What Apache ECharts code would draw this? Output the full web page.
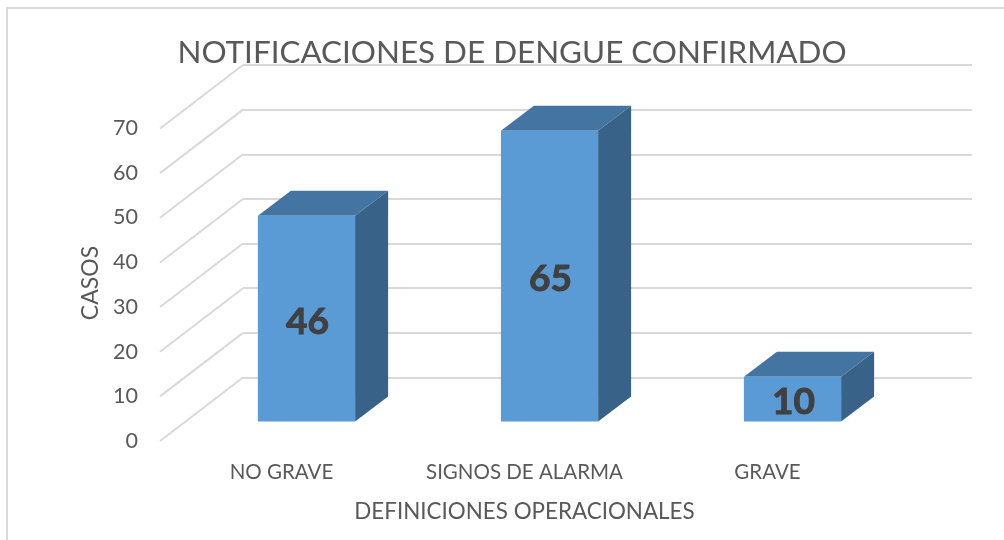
<!DOCTYPE html>
<html>
<head>
<meta charset="utf-8">
<style>
html,body{margin:0;padding:0;background:#fff}
#main{width:1004px;height:540px}
</style>
<script src="https://cdn.jsdelivr.net/npm/echarts@6/dist/echarts.min.js"></script>
</head>
<body>
<div id="main"></div>
<script>
var categories = ['NO GRAVE', 'SIGNOS DE ALARMA', 'GRAVE']
var casos = [46, 65, 10]
var yTicks = [0, 10, 20, 30, 40, 50, 60, 70]

var textColor = '#595959'
var gridColor = '#d9d9d9'
var font = 'Lato'

// profundidad del "3D"
var barDx = 33, barDy = 25
var wallDx = 83, wallDy = 63.5

var chart = echarts.init(document.getElementById('main'))

function renderBar(params, api) {
	var x = api.value(0)
	var v = api.value(1)
	var top = api.coord([x, v])
	var base = api.coord([x, 0])
	var w = api.size([1, 0])[0] * 0.4
	var l = top[0] - w / 2, r = top[0] + w / 2
	return {
		type: 'group',
		children: [
			{
				type: 'polygon',
				shape: { points: [[l, top[1]], [l + barDx, top[1] - barDy], [r + barDx, top[1] - barDy], [r, top[1]]] },
				style: { fill: '#4475a2' }
			},
			{
				type: 'polygon',
				shape: { points: [[r, top[1]], [r + barDx, top[1] - barDy], [r + barDx, base[1] - barDy], [r, base[1]]] },
				style: { fill: '#386287' }
			},
			{
				type: 'rect',
				shape: { x: l, y: top[1], width: w, height: base[1] - top[1] },
				style: { fill: '#5b9bd5' }
			},
			{
				type: 'text',
				x: top[0] + 1,
				y: (top[1] + base[1]) / 2 + 3,
				style: {
					text: String(v),
					fill: '#404040',
					stroke: '#404040',
					lineWidth: 1,
					font: 'bold 37px ' + font,
					align: 'center',
					verticalAlign: 'middle'
				}
			}
		]
	}
}

// lineas diagonales de la pared lateral
function renderWall(params, api) {
	var p = api.coord([0, api.value(0)])
	var x0 = params.coordSys.x
	return {
		type: 'line',
		shape: { x1: x0, y1: p[1], x2: x0 - wallDx, y2: p[1] + wallDy },
		style: { stroke: gridColor, lineWidth: 2 }
	}
}

var option = {
	animation: false,
	backgroundColor: '#fff',
	title: {
		text: 'NOTIFICACIONES DE DENGUE CONFIRMADO',
		left: 507,
		top: 32,
		textAlign: 'center',
		textStyle: { color: textColor, fontFamily: font, fontWeight: 'normal', fontSize: 31.4 }
	},
	graphic: [{
		type: 'rect',
		silent: true,
		z: -1,
		shape: { x: 7, y: 8, width: 1100, height: 600 },
		style: { fill: 'none', stroke: gridColor, lineWidth: 2 }
	}],
	grid: [
		// pared del fondo
		{ left: 243, width: 729, top: 65, height: 312.5 },
		// plano frontal (etiquetas de ejes)
		{ left: 160, width: 729, top: 128, height: 313 },
		// plano de las barras
		{ left: 185, width: 729, top: 108.5, height: 313 }
	],
	xAxis: [
		{ gridIndex: 0, type: 'category', data: categories, show: false },
		{
			gridIndex: 1,
			type: 'category',
			data: categories,
			axisLine: { show: false },
			axisTick: { show: false },
			axisLabel: { color: textColor, fontFamily: font, fontSize: 20.5, margin: 21, interval: 0 },
			name: 'DEFINICIONES OPERACIONALES',
			nameLocation: 'middle',
			nameGap: 60,
			nameTextStyle: { color: textColor, fontFamily: font, fontSize: 22.4 }
		},
		{ gridIndex: 2, type: 'category', data: categories, show: false }
	],
	yAxis: [
		{
			gridIndex: 0, type: 'value', min: 0, max: 70, interval: 10,
			axisLine: { show: false }, axisTick: { show: false }, axisLabel: { show: false },
			splitLine: { show: true, lineStyle: { color: gridColor, width: 2 } }
		},
		{
			gridIndex: 1, type: 'value', min: 0, max: 70, interval: 10,
			axisLine: { show: false }, axisTick: { show: false },
			splitLine: { show: false },
			axisLabel: { color: textColor, fontFamily: font, fontSize: 21.5, margin: 22, padding: [4, 0, 0, 0] },
			name: 'CASOS',
			nameLocation: 'middle',
			nameGap: 57,
			nameTextStyle: { color: textColor, fontFamily: font, fontSize: 23, padding: [0, 0, 0, 3] }
		},
		{ gridIndex: 2, type: 'value', min: 0, max: 70, interval: 10, show: false }
	],
	series: [
		{
			type: 'custom',
			xAxisIndex: 0,
			yAxisIndex: 0,
			renderItem: renderWall,
			encode: { y: 0 },
			data: yTicks.map(function (t) { return [t] }),
			silent: true,
			z: 1
		},
		{
			type: 'custom',
			xAxisIndex: 2,
			yAxisIndex: 2,
			renderItem: renderBar,
			encode: { x: 0, y: 1 },
			data: casos.map(function (v, i) { return [i, v] }),
			z: 5
		}
	]
}

chart.setOption(option)
</script>
</body>
</html>
